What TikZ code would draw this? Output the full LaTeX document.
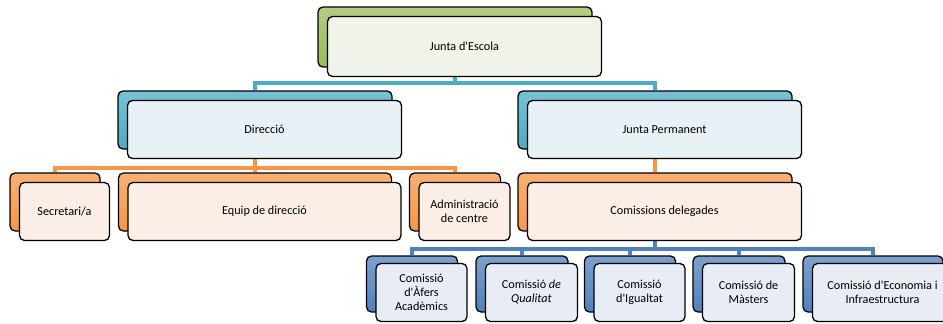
\documentclass[tikz,border=0pt]{standalone}
\usepackage{fontspec}
\setmainfont{Carlito}[Ligatures=TeXOff]
\definecolor{cgreen}{HTML}{9BBB59}
\definecolor{caqua}{HTML}{4BACC6}
\definecolor{corange}{HTML}{F79646}
\definecolor{cblue}{HTML}{4F81BD}
\definecolor{fgreen}{RGB}{239,243,233}
\definecolor{faqua}{RGB}{232,241,245}
\definecolor{forange}{RGB}{250,238,231}
\definecolor{fblue}{RGB}{232,237,245}
\tikzset{
  backbox/.style={draw=black, line width=1.3pt, rounded corners=5pt, inner sep=0pt,
    top color=#1!75!white, bottom color=#1},
  frontbox/.style={draw=black, line width=1.3pt, rounded corners=5pt, inner sep=1pt,
    fill=#1, align=center, font=\fontsize{12.2}{14}\selectfont},
  conn/.style={draw=#1, line width=3.8pt},
}
\begin{document}
\begin{tikzpicture}[x=1pt,y=-1pt]
\useasboundingbox (0,0) rectangle (943,324);
% back boxes
\node[backbox=cgreen, minimum width=274pt, minimum height=60pt] (junta) at (455,37) {};
\node[backbox=caqua, minimum width=274pt, minimum height=58pt] (dir) at (255,120) {};
\node[backbox=caqua, minimum width=274pt, minimum height=58pt] (jp) at (655,120) {};
\node[backbox=corange, minimum width=90pt, minimum height=58pt] (sec) at (55,202) {};
\node[backbox=corange, minimum width=273pt, minimum height=58pt] (equip) at (255,202) {};
\node[backbox=corange, minimum width=91pt, minimum height=58pt] (admin) at (455,202) {};
\node[backbox=corange, minimum width=274pt, minimum height=58pt] (com) at (655,202) {};
\node[backbox=cblue, minimum width=91pt, minimum height=56pt] (c1) at (412,284) {};
\node[backbox=cblue, minimum width=92pt, minimum height=56pt] (c2) at (522,284) {};
\node[backbox=cblue, minimum width=91pt, minimum height=56pt] (c3) at (630,284) {};
\node[backbox=cblue, minimum width=92pt, minimum height=56pt] (c4) at (739,284) {};
\node[backbox=cblue, minimum width=140pt, minimum height=56pt] (c5) at (873,284) {};
% connectors
\draw[conn=caqua] (junta.south) -- ++(0,15) -| (dir.north);
\draw[conn=caqua] (junta.south) -- ++(0,15) -| (jp.north);
\draw[conn=corange] (dir.south) -- ++(0,18) -| (sec.north);
\draw[conn=corange] (dir.south) -- (equip.north);
\draw[conn=corange] (dir.south) -- ++(0,18) -| (admin.north);
\draw[conn=corange] (jp.south) -- (com.north);
\draw[conn=cblue] (com.south) -- ++(0,17) -| (c1.north);
\draw[conn=cblue] (com.south) -- ++(0,17) -| (c2.north);
\draw[conn=cblue] (com.south) -- ++(0,17) -| (c3.north);
\draw[conn=cblue] (com.south) -- ++(0,17) -| (c4.north);
\draw[conn=cblue] (com.south) -- ++(0,17) -| (c5.north);
% front boxes
\node[frontbox=fgreen, minimum width=274pt, minimum height=60pt] (juntaf) at (464.5,46.5) {Junta d'Escola};
\node[frontbox=faqua, minimum width=274pt, minimum height=58pt] (dirf) at (264.5,129.5) {Direcció};
\node[frontbox=faqua, minimum width=274pt, minimum height=58pt] (jpf) at (664.5,129.5) {Junta Permanent};
\node[frontbox=forange, minimum width=90pt, minimum height=58pt] (secf) at (64.5,211.5) {Secretari/a};
\node[frontbox=forange, minimum width=273pt, minimum height=58pt] (equipf) at (264.5,211.5) {Equip de direcció};
\node[frontbox=forange, minimum width=91pt, minimum height=58pt] (adminf) at (464.5,211.5) {Administració\\de centre};
\node[frontbox=forange, minimum width=274pt, minimum height=58pt] (comf) at (664.5,211.5) {Comissions delegades};
\node[frontbox=fblue, minimum width=91pt, minimum height=58pt] (c1f) at (421.5,292.5) {Comissió\\d'Àfers\\Acadèmics};
\node[frontbox=fblue, minimum width=92pt, minimum height=58pt] (c2f) at (531.5,292.5) {Comissió \textit{de}\\\textit{Qualitat}};
\node[frontbox=fblue, minimum width=91pt, minimum height=58pt] (c3f) at (639.5,292.5) {Comissió\\d'Igualtat};
\node[frontbox=fblue, minimum width=92pt, minimum height=58pt] (c4f) at (748.5,292.5) {Comissió de\\Màsters};
\node[frontbox=fblue, minimum width=140pt, minimum height=58pt] (c5f) at (882.5,292.5) {Comissió d'Economia i\\Infraestructura};
\end{tikzpicture}
\end{document}
